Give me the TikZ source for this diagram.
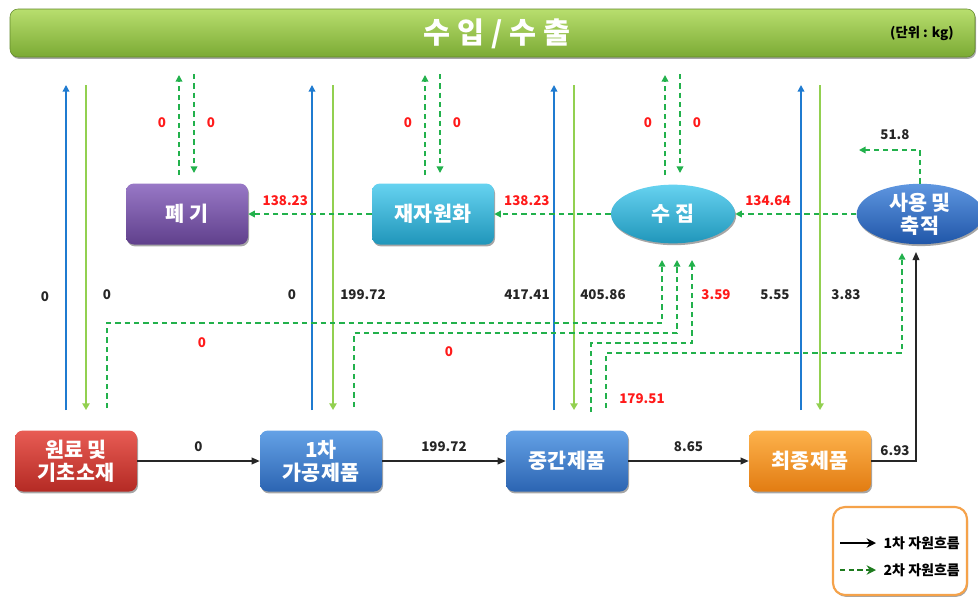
\documentclass[tikz,border=0pt]{standalone}
\usepackage{fontspec}
\setmainfont{Noto Sans CJK KR}
\usetikzlibrary{shapes.geometric,arrows.meta,shadows}
\definecolor{bannerTop}{HTML}{B8DE6E}
\definecolor{bannerBot}{HTML}{7BAA34}
\definecolor{flowblue}{HTML}{1F7BD0}
\definecolor{flowgreen}{HTML}{92D050}
\definecolor{dgreen}{HTML}{22B14C}
\definecolor{numred}{HTML}{FF1A1A}
\definecolor{legendgreen}{HTML}{1E7B1E}
\definecolor{legendorange}{HTML}{F5A24A}
\definecolor{redT}{HTML}{E85C54}\definecolor{redB}{HTML}{B42A24}
\definecolor{blueT}{HTML}{64A2E6}\definecolor{blueB}{HTML}{2C64B2}
\definecolor{orgT}{HTML}{FDB24C}\definecolor{orgB}{HTML}{E27C12}
\definecolor{purT}{HTML}{9878C6}\definecolor{purB}{HTML}{60408C}
\definecolor{tealT}{HTML}{66D2F0}\definecolor{tealB}{HTML}{2096BA}
\definecolor{ublueT}{HTML}{5E96E0}\definecolor{ublueB}{HTML}{2056A8}
\tikzset{
  shd/.style={drop shadow={shadow xshift=0.8pt, shadow yshift=-1.4pt, opacity=0.35, fill=black}},
  box/.style={rounded corners=6pt, minimum width=91.5pt, minimum height=45.75pt, inner sep=1pt,
    text=white, align=center, font=\bfseries\fontsize{15.5}{17.5}\selectfont, shd},
  oval/.style={ellipse, minimum width=93pt, minimum height=44pt, inner sep=0pt,
    text=white, align=center, font=\bfseries\fontsize{15.5}{17.5}\selectfont, shd},
  vup/.style={flowblue, line width=1.1pt, -{Triangle[width=5pt,length=5pt]}},
  vdown/.style={flowgreen, line width=1.1pt, -{Triangle[width=5.5pt,length=5pt]}},
  dflow/.style={dgreen, line width=1.1pt, dash pattern=on 4pt off 3pt, -{Triangle[width=5pt,length=5pt]}},
  flowone/.style={black!85, line width=1pt, -{Triangle[width=5pt,length=6pt]}},
  num/.style={font=\bfseries\fontsize{10}{12}\selectfont, text=black!85},
  rnum/.style={num, text=numred},
}
\begin{document}
\begin{tikzpicture}[x=0.75pt,y=-0.75pt]
\useasboundingbox (0,0) rectangle (978,604);
\fill[white] (0,0) rectangle (978,604);

% banner
\path[rounded corners=6pt, top color=bannerTop, bottom color=bannerBot, draw=bannerBot!80!black, line width=0.4pt, shd]
  (10,9) rectangle (975,57);
\node[text=white, font=\bfseries\fontsize{22}{26}\selectfont] (title) at (497,34) {수 입 / 수 출};
\node[font=\bfseries\fontsize{10}{12}\selectfont] (unit) at (922,33) {(단위 : kg)};

% top nodes
\node[box, top color=purT, bottom color=purB] (waste) at (187,214) {폐 기};
\node[box, top color=tealT, bottom color=tealB] (recyc) at (433,214) {재자원화};
\node[oval, top color=tealT, bottom color=tealB] (collect) at (673,214) {수 집};
\node[oval, minimum width=95pt, top color=ublueT, bottom color=ublueB] (use) at (920,214) {사용 및\\축적};

% bottom nodes
\node[box, top color=redT, bottom color=redB] (raw) at (76,461) {원료 및\\기초소재};
\node[box, top color=blueT, bottom color=blueB] (prim) at (321,461) {1차\\가공제품};
\node[box, top color=blueT, bottom color=blueB] (inter) at (567,461) {중간제품};
\node[box, top color=orgT, bottom color=orgB] (final) at (810,461) {최종제품};

% vertical import/export lines
\foreach \b/\g/\n in {66/86/a,312/333/b,554/574/c,801/820/d}{
  \coordinate (bl\n) at (\b,410); \coordinate (bt\n) at (\b,85);
  \coordinate (gt\n) at (\g,85); \coordinate (gb\n) at (\g,410);
  \draw[vup] (bl\n) -- (bt\n);
  \draw[vdown] (gt\n) -- (gb\n);
}
\node[num] (la) at (45,297) {0};
\node[num] (ra) at (107,295) {0};
\node[num] (lb) at (292,295) {0};
\node[num] (rb) at (363,295) {199.72};
\node[num] (lc) at (527,295) {417.41};
\node[num] (rc) at (603,295) {405.86};
\node[num] (ld) at (775,295) {5.55};
\node[num] (rd) at (846,295) {3.83};

% top dashed import/export of waste, recycling, collection
\foreach \nd/\cx/\m in {waste/187/w,recyc/433/r,collect/673/c}{
  \coordinate (u1\m) at (\cx-8,175); \coordinate (u2\m) at (\cx-8,75);
  \coordinate (d1\m) at (\cx+7,74); \coordinate (d2\m) at (\cx+7,173);
  \draw[dflow] (u1\m) -- (u2\m);
  \draw[dflow] (d1\m) -- (d2\m);
  \node[rnum] at (\cx-25,123) {0};
  \node[rnum] at (\cx+24,123) {0};
}

% horizontal dashed flows between top nodes
\draw[dflow] (collect.west) -- (recyc.east) node[rnum, pos=0.72, above=2pt] {138.23};
\draw[dflow] (recyc.west) -- (waste.east) node[rnum, pos=0.70, above=2pt] {138.23};
\draw[dflow] (use.west) -- (collect.east) node[rnum, pos=0.73, above=2pt] {134.64};

% 51.8 export from use
\coordinate (ex) at (859,150);
\draw[dflow] (use.north) -- (use.north |- ex) -- (ex);
\node[num] (l518) at (895,135) {51.8};

% primary flows
\draw[flowone] (raw.east) -- (prim.west) node[num, midway, above=3pt] {0};
\draw[flowone] (prim.east) -- (inter.west) node[num, midway, above=3pt] {199.72};
\draw[flowone] (inter.east) -- (final.west) node[num, midway, above=3pt] {8.65};
\coordinate (uin) at (916,252);
\draw[flowone] (final.east) -- (final.east -| uin) -- (uin);
\node[num] (l693) at (895,451) {6.93};

% secondary flows into collection
\coordinate (s1) at (107,408); \coordinate (e1) at (662,260);
\coordinate (s2) at (354,407); \coordinate (e2) at (677,260);
\coordinate (s3) at (591,412); \coordinate (e3) at (692,260);
\coordinate (s4) at (606,408); \coordinate (e4) at (902,253);
\draw[dflow] (s1) -- (107,323) -| (e1);
\draw[dflow] (s2) -- (354,333) -| (e2);
\draw[dflow] (s3) -- (591,343) -| (e3);
\draw[dflow] (s4) -- (606,353) -| (e4);
\node[rnum] at (202,343) {0};
\node[rnum] at (449,352) {0};
\node[rnum] at (716,295) {3.59};
\node[rnum] at (642,399) {179.51};

% legend
\path[draw=legendorange, line width=1.6pt, fill=white, rounded corners=9pt, shd] (833,507) rectangle (967,595);
\coordinate (lg1a) at (840,543); \coordinate (lg1b) at (876,543);
\coordinate (lg2a) at (840,570); \coordinate (lg2b) at (876,570);
\draw[black, line width=1.5pt, -{Stealth[length=7pt,width=7pt]}] (lg1a) -- (lg1b);
\draw[legendgreen, line width=1.5pt, dash pattern=on 4pt off 2.5pt, -{Stealth[length=7pt,width=7pt]}] (lg2a) -- (lg2b);
\node[anchor=west, font=\bfseries\fontsize{10.5}{12}\selectfont] (lt1) at (879,543) {1차 자원흐름};
\node[anchor=west, font=\bfseries\fontsize{10.5}{12}\selectfont] (lt2) at (879,570) {2차 자원흐름};
\end{tikzpicture}
\end{document}
